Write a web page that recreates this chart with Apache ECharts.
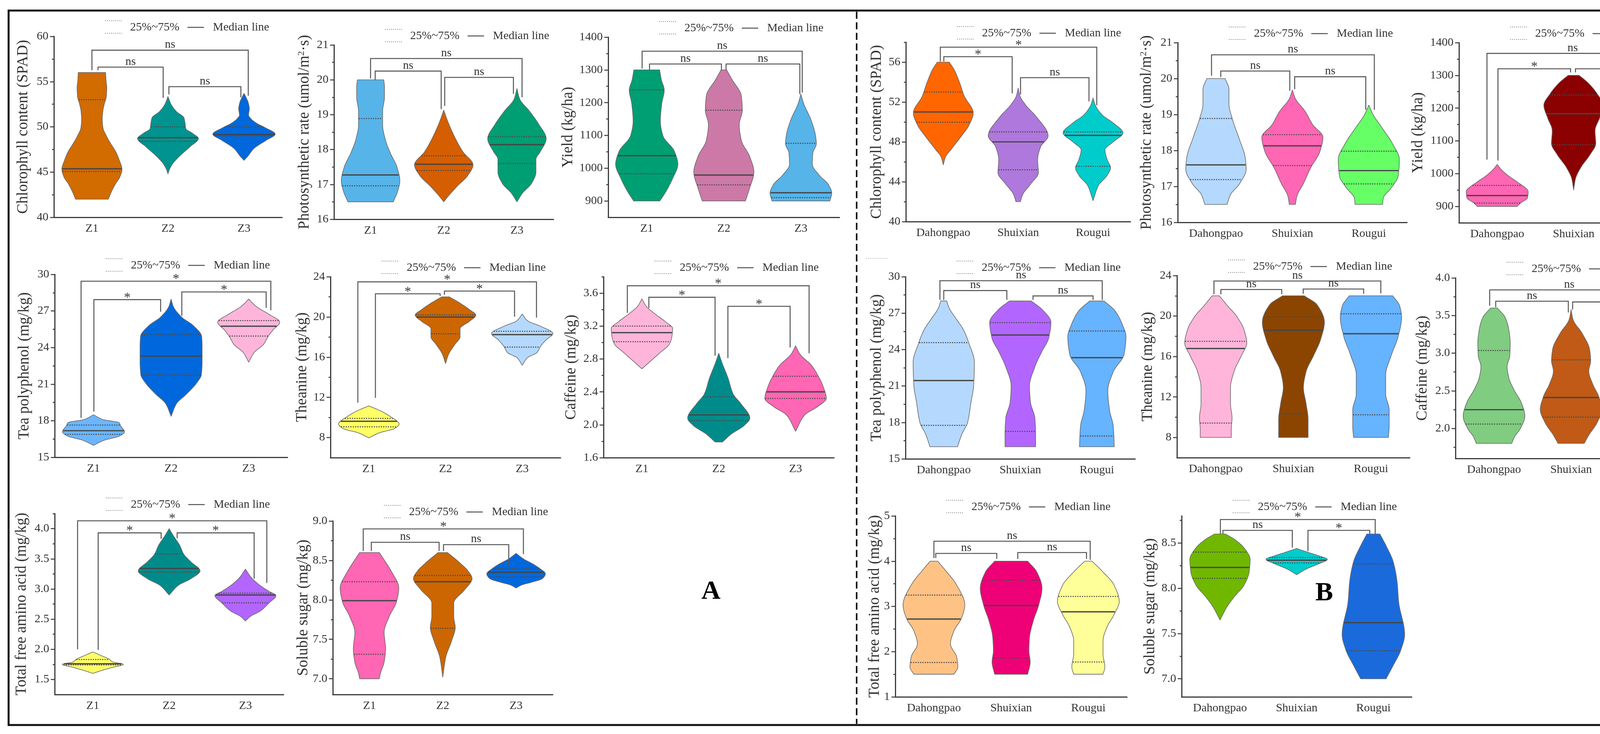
<!DOCTYPE html>
<html><head><meta charset="utf-8">
<script src="https://cdn.jsdelivr.net/npm/echarts@6/dist/echarts.min.js"></script>
<style>html,body{margin:0;padding:0;background:#fff}#c{width:4367px;height:1878px}</style>
</head><body><div id="c"></div>
<script>
// ---------------- DATA ----------------
const catsZ = ['Z1', 'Z2', 'Z3'];
const catsV = ['Dahongpao', 'Shuixian', 'Rougui'];

// Violin profiles: [value, density half-width (share of category band)]
// quartiles: [Q1, median, Q3]; sig: [from, to, bracket top, left end, right end, label]
// ---- A1 Chlorophyll (Z)
const chlZ_range = [40, 60];
const chlZ_ticks = [40, 45, 50, 55, 60];
const chlZ_minor = [42.5, 47.5, 52.5, 57.5];
const chlZ_profile = [
  [[42,0.215],[42.9,0.26],[43.7,0.31],[44.5,0.37],[45.3,0.395],[46.4,0.356],[47.3,0.31],[48.1,0.25],[49.0,0.19],[49.9,0.145],[50.8,0.136],[51.7,0.143],[52.5,0.162],[53.4,0.19],[54.3,0.195],[55.2,0.185],[56,0.18]],
  [[44.8,0],[45.3,0.02],[45.9,0.06],[46.7,0.145],[47.8,0.29],[48.7,0.40],[49.3,0.32],[49.8,0.235],[50.4,0.225],[51.0,0.21],[51.7,0.11],[52.5,0.04],[53.35,0]],
  [[46.3,0],[46.7,0.045],[47.6,0.13],[48.5,0.29],[49.2,0.41],[49.9,0.28],[50.4,0.165],[50.9,0.09],[51.3,0.06],[52.0,0.07],[52.7,0.055],[53.2,0.03],[53.7,0]]
];
const chlZ_quart = [[45.06,45.36,53.0],[48.4,48.8,50.0],[49.0,49.15,50.0]];
const chlZ_sig = [[0,2,58.47,56.26,53.44,'ns'],[0,1,56.6,56.26,53.2,'ns'],[1,2,54.44,53.58,53.26,'ns']];

// ---- A2 Photosynthetic rate (Z)
const phZ_range = [16, 21];
const phZ_ticks = [16, 17, 18, 19, 20, 21];
const phZ_minor = [16.5, 17.5, 18.5, 19.5, 20.5];
const phZ_profile = [
  [[16.5,0.31],[16.8,0.37],[17.1,0.40],[17.5,0.36],[17.9,0.27],[18.3,0.2],[18.7,0.165],[19.1,0.165],[19.5,0.19],[19.8,0.19],[20.0,0.18]],
  [[16.5,0],[16.66,0.06],[16.94,0.18],[17.26,0.33],[17.56,0.40],[17.94,0.26],[18.4,0.14],[18.86,0.045],[19.13,0]],
  [[16.5,0],[16.75,0.076],[17.03,0.2],[17.35,0.26],[17.72,0.26],[17.94,0.32],[18.31,0.40],[18.72,0.30],[19.09,0.176],[19.45,0.038],[19.75,0]]
];
const phZ_quart = [[16.96,17.27,18.89],[17.4,17.58,17.82],[17.6,18.14,18.37]];
const phZ_sig = [[0,2,20.61,20.04,19.5,'ns'],[0,1,20.25,20.0,19.16,'ns'],[1,2,20.07,19.25,19.6,'ns']];

// ---- A3 Yield (Z)
const ydZ_range = [850, 1400];
const ydZ_ticks = [900, 1000, 1100, 1200, 1300, 1400];
const ydZ_minor = [950, 1050, 1150, 1250, 1350];
const ydZ_profile = [
  [[900,0.17],[929,0.25],[968,0.335],[1012,0.404],[1051,0.36],[1099,0.21],[1143,0.177],[1197,0.195],[1238,0.227],[1270,0.19],[1300,0.167]],
  [[900,0.28],[939,0.335],[988,0.39],[1036,0.335],[1085,0.227],[1133,0.2],[1177,0.24],[1221,0.227],[1270,0.108],[1300,0.036]],
  [[900,0.375],[924,0.40],[949,0.36],[978,0.24],[1012,0.148],[1046,0.155],[1075,0.2],[1099,0.19],[1148,0.13],[1197,0.036],[1226,0]]
];
const ydZ_quart = [[983,1038,1239],[949,979,1177],[910,925,1076]];
const ydZ_sig = [[0,2,1357,1304,1231,'ns'],[0,1,1318,1300,1299,'ns'],[1,2,1318,1300,1226,'ns']];

// ---- A4 Tea polyphenol (Z)
const tpZ_range = [15, 30];
const tpZ_ticks = [15, 18, 21, 24, 27, 30];
const tpZ_minor = [16.5, 19.5, 22.5, 25.5, 28.5];
const tpZ_profile = [
  [[15.98,0],[16.4,0.14],[16.73,0.33],[17.09,0.40],[17.58,0.35],[17.84,0.33],[18.1,0.12],[18.49,0]],
  [[18.36,0],[19.4,0.07],[20.19,0.2],[21.1,0.33],[21.76,0.39],[22.8,0.40],[24.11,0.40],[24.9,0.394],[25.81,0.285],[26.47,0.14],[27.38,0.028],[27.97,0]],
  [[22.8,0],[23.59,0.07],[24.25,0.19],[24.9,0.25],[25.42,0.31],[26.08,0.40],[26.73,0.26],[27.38,0.095],[27.97,0]]
];
const tpZ_quart = [[16.88,17.18,17.64],[21.76,23.3,25.06],[24.94,25.75,26.21]];
const tpZ_sig = [[0,2,29.44,18.23,27.06,'*'],[0,1,27.93,18.75,26.93,'*'],[1,2,28.56,26.6,27.25,'*']];

// ---- A5 Theanine (Z)
const thZ_range = [6, 24];
const thZ_ticks = [8, 12, 16, 20, 24];
const thZ_minor = [10, 14, 18, 22];
const thZ_profile = [
  [[7.97,0],[8.48,0.14],[8.88,0.33],[9.35,0.395],[10.07,0.285],[10.7,0.14],[11.15,0]],
  [[15.36,0],[16.28,0.04],[17.24,0.12],[18.03,0.19],[18.83,0.19],[19.55,0.31],[20.18,0.395],[20.74,0.31],[21.37,0.19],[22.0,0.048]],
  [[15.2,0],[15.96,0.07],[16.44,0.19],[17.08,0.24],[17.71,0.31],[18.35,0.40],[19.07,0.24],[19.62,0.07],[20.29,0]]
];
const thZ_quart = [[9.07,9.62,9.91],[18.32,19.99,20.21],[17.0,18.24,18.57]];
const thZ_sig = [[0,2,23.49,11.47,19.94,'*'],[0,1,22.3,11.95,22.09,'*'],[1,2,22.57,22.2,20.02,'*']];

// ---- A6 Caffeine (Z)
const cfZ_range = [1.6, 3.8];
const cfZ_ticks = [1.6, 2.0, 2.4, 2.8, 3.2, 3.6];
const cfZ_minor = [1.8, 2.2, 2.6, 3.0, 3.4, 3.8];
const cfZ_profile = [
  [[2.68,0],[2.78,0.12],[2.88,0.24],[2.98,0.357],[3.07,0.39],[3.17,0.40],[3.25,0.31],[3.35,0.167],[3.44,0.057],[3.53,0]],
  [[1.79,0.048],[1.89,0.167],[1.99,0.33],[2.08,0.405],[2.26,0.285],[2.37,0.19],[2.57,0.12],[2.76,0.04],[2.87,0]],
  [[1.92,0],[2.12,0.12],[2.22,0.285],[2.32,0.40],[2.47,0.357],[2.61,0.285],[2.72,0.21],[2.86,0.057],[2.96,0]]
];
const cfZ_quart = [[3.01,3.12,3.2],[2.05,2.12,2.34],[2.32,2.4,2.59]];
const cfZ_sig = [[0,2,3.69,3.36,2.87,'*'],[0,1,3.55,3.42,2.84,'*'],[1,2,3.44,2.81,2.94,'*']];

// ---- A7 Total free amino acid (Z)
const aaZ_range = [1.25, 4.25];
const aaZ_ticks = [1.5, 2.0, 2.5, 3.0, 3.5, 4.0];
const aaZ_minor = [1.75, 2.25, 2.75, 3.25, 3.75, 4.25];
const aaZ_profile = [
  [[1.6,0],[1.65,0.12],[1.70,0.26],[1.75,0.40],[1.79,0.26],[1.84,0.21],[1.89,0.12],[1.957,0]],
  [[2.9,0],[3.06,0.12],[3.17,0.285],[3.3,0.405],[3.45,0.285],[3.58,0.19],[3.72,0.14],[3.88,0.057],[4.0,0]],
  [[2.47,0],[2.55,0.07],[2.63,0.19],[2.77,0.31],[2.89,0.40],[2.96,0.31],[3.06,0.19],[3.2,0.07],[3.33,0]]
];
const aaZ_quart = [[1.74,1.76,1.83],[3.28,3.34,3.58],[2.77,2.9,2.93]];
const aaZ_sig = [[0,2,4.13,2.0,3.1,'*'],[0,1,3.93,1.99,3.83,'*'],[1,2,3.93,3.84,3.17,'*']];

// ---- A8 Soluble sugar (Z)
const ssZ_range = [6.8, 9.0];
const ssZ_ticks = [7.0, 7.5, 8.0, 8.5, 9.0];
const ssZ_minor = [7.25, 7.75, 8.25, 8.75];
const ssZ_profile = [
  [[7.0,0.134],[7.07,0.15],[7.21,0.2],[7.38,0.22],[7.59,0.2],[7.79,0.27],[7.98,0.37],[8.15,0.40],[8.36,0.3],[8.48,0.22],[8.6,0.134]],
  [[7.02,0],[7.27,0.04],[7.48,0.12],[7.65,0.17],[7.79,0.15],[7.96,0.15],[8.13,0.3],[8.27,0.40],[8.36,0.35],[8.48,0.22],[8.6,0.065]],
  [[8.15,0],[8.19,0.08],[8.22,0.2],[8.27,0.36],[8.33,0.40],[8.4,0.32],[8.46,0.22],[8.52,0.1],[8.59,0]]
];
const ssZ_quart = [[7.31,7.99,8.23],[7.64,8.23,8.31],[8.29,8.35,8.4]];
const ssZ_sig = [[0,2,8.9,8.62,8.58,'*'],[0,1,8.73,8.62,8.62,'ns'],[1,2,8.7,8.62,8.44,'ns']];

// ---- B1 Chlorophyll (varieties)
const chlV_range = [40, 58];
const chlV_ticks = [40, 44, 48, 52, 56];
const chlV_minor = [42, 46, 50, 54, 58];
const chlV_profile = [
  [[45.7,0],[46.5,0.03],[47.2,0.1],[48.5,0.234],[49.7,0.345],[50.9,0.40],[52.6,0.28],[53.9,0.22],[55.2,0.148],[56.0,0.08]],
  [[42.0,0.03],[42.7,0.06],[43.8,0.17],[44.9,0.27],[46.2,0.26],[47.5,0.3],[48.6,0.40],[50.5,0.246],[51.7,0.1],[52.6,0.025],[53.4,0]],
  [[42.1,0],[43.65,0.074],[44.6,0.185],[45.4,0.234],[46.2,0.19],[47.2,0.16],[48.0,0.27],[48.9,0.40],[49.9,0.27],[50.7,0.123],[51.7,0.03],[52.4,0]]
];
const chlV_quart = [[49.97,51.0,53.0],[45.2,48.0,49.0],[45.55,48.65,49.0]];
const chlV_sig = [[0,2,57.5,56.07,51.67,'*'],[0,1,56.55,56.07,52.87,'*'],[1,2,54.44,52.76,52.07,'ns']];

// ---- B2 Photosynthetic rate (varieties)
const phV_range = [16, 21];
const phV_ticks = [16, 17, 18, 19, 20, 21];
const phV_minor = [16.5, 17.5, 18.5, 19.5, 20.5];
const phV_profile = [
  [[16.5,0.145],[16.77,0.19],[17.08,0.31],[17.48,0.395],[17.75,0.386],[18.41,0.29],[18.86,0.217],[19.3,0.17],[19.7,0.17],[20.0,0.12]],
  [[16.5,0.04],[16.72,0.058],[17.08,0.145],[17.52,0.24],[17.97,0.36],[18.37,0.40],[18.72,0.265],[19.08,0.17],[19.44,0.04],[19.68,0]],
  [[16.5,0.18],[16.68,0.19],[16.95,0.29],[17.3,0.385],[17.75,0.40],[18.19,0.31],[18.64,0.17],[18.99,0.058],[19.26,0]]
];
const phV_quart = [[17.19,17.6,18.89],[17.58,18.13,18.44],[17.07,17.44,17.98]];
const phV_sig = [[0,2,20.66,20.08,19.13,'ns'],[0,1,20.21,20.04,19.66,'ns'],[1,2,20.05,19.7,19.13,'ns']];

// ---- B3 Yield (varieties)
const ydV_range = [850, 1400];
const ydV_ticks = [900, 1000, 1100, 1200, 1300, 1400];
const ydV_minor = [950, 1050, 1150, 1250, 1350];
const ydV_profile = [
  [[900,0.26],[911,0.31],[926,0.396],[945,0.405],[975,0.26],[994,0.143],[1014,0.048],[1028,0]],
  [[950,0],[984,0.024],[1019,0.095],[1058,0.215],[1092,0.29],[1131,0.28],[1170,0.34],[1209,0.39],[1243,0.31],[1277,0.19],[1300,0.072]],
  [[900,0.3],[921,0.33],[945,0.39],[980,0.33],[1009,0.34],[1038,0.39],[1062,0.29],[1092,0.143],[1121,0.04],[1145,0]]
];
const ydV_quart = [[910,933,964],[1088,1183,1240],[937,980,1038]];
const ydV_sig = [[0,2,1367,1043,1116,'ns'],[0,1,1320,1040,1309,'*'],[1,2,1320,1309,1160,'*']];

// ---- B4 Tea polyphenol (varieties)
const tpV_range = [15, 30];
const tpV_ticks = [15, 18, 21, 24, 27, 30];
const tpV_minor = [16.5, 19.5, 22.5, 25.5, 28.5];
const tpV_profile = [
  [[16.0,0.18],[17.04,0.237],[17.96,0.31],[19.67,0.356],[20.99,0.39],[22.96,0.40],[24.5,0.33],[25.6,0.26],[26.5,0.166],[27.43,0.07],[28.0,0.038]],
  [[16.0,0.2],[17.04,0.2],[18.36,0.19],[19.67,0.133],[20.99,0.12],[22.57,0.19],[23.88,0.285],[24.93,0.37],[26.25,0.40],[27.3,0.285],[28.0,0.143]],
  [[16.0,0.228],[17.7,0.214],[19.0,0.166],[20.6,0.143],[22.17,0.214],[23.62,0.356],[25.07,0.38],[26.1,0.33],[27.17,0.24],[28.0,0.095]]
];
const tpV_quart = [[17.76,21.45,24.57],[17.26,25.2,26.22],[16.88,23.33,25.53]];
const tpV_sig = [[0,2,29.67,28.09,28.09,'ns'],[0,1,28.86,28.09,28.09,'ns'],[1,2,28.42,28.09,28.09,'ns']];

// ---- B5 Theanine (varieties)
const thV_range = [6, 24];
const thV_ticks = [8, 12, 16, 20, 24];
const thV_minor = [10, 14, 18, 22];
const thV_profile = [
  [[8.0,0.2],[8.82,0.2],[9.92,0.21],[11.34,0.19],[12.92,0.19],[14.5,0.235],[16.08,0.33],[17.34,0.40],[18.6,0.366],[19.86,0.28],[21.12,0.14],[22.0,0.047]],
  [[8.0,0.19],[9.77,0.19],[11.34,0.164],[12.92,0.13],[14.5,0.164],[16.08,0.26],[17.65,0.35],[19.39,0.40],[21.12,0.305],[22.0,0.14]],
  [[8.0,0.225],[9.14,0.235],[10.71,0.235],[12.29,0.19],[14.18,0.19],[16.08,0.26],[17.97,0.35],[19.86,0.395],[21.0,0.37],[22.0,0.28]]
];
const thV_quart = [[9.42,16.79,17.5],[10.32,18.6,19.9],[10.24,18.25,20.22]];
const thV_sig = [[0,2,23.46,22.15,22.23,'ns'],[0,1,22.62,22.15,22.15,'ns'],[1,2,22.67,22.2,22.2,'ns']];

// ---- B6 Caffeine (varieties)
const cfV_range = [1.6, 4.0];
const cfV_ticks = [2.0, 2.5, 3.0, 3.5, 4.0];
const cfV_minor = [1.75, 2.25, 2.75, 3.25, 3.75];
const cfV_profile = [
  [[1.8,0.23],[1.888,0.266],[1.994,0.34],[2.163,0.40],[2.35,0.35],[2.5,0.266],[2.67,0.193],[2.82,0.17],[2.967,0.205],[3.136,0.21],[3.306,0.193],[3.475,0.145],[3.6,0.043]],
  [[1.8,0.17],[1.91,0.23],[2.08,0.34],[2.25,0.40],[2.42,0.36],[2.59,0.28],[2.76,0.23],[2.9,0.254],[3.05,0.24],[3.26,0.145],[3.45,0.024],[3.58,0]],
  [[1.8,0],[1.99,0.043],[2.12,0.12],[2.25,0.22],[2.4,0.34],[2.54,0.40],[2.67,0.34],[2.84,0.254],[3.01,0.193],[3.18,0.213],[3.35,0.193],[3.475,0.133],[3.6,0.053]]
];
const cfV_quart = [[2.057,2.248,3.035],[2.15,2.41,2.91],[2.555,2.637,3.164]];
const cfV_sig = [[0,2,3.84,3.63,3.62,'ns'],[0,1,3.69,3.61,3.54,'ns'],[1,2,3.68,3.58,3.61,'ns']];

// ---- B7 Total free amino acid (varieties)
const aaV_range = [1, 5];
const aaV_ticks = [1, 2, 3, 4, 5];
const aaV_minor = [1.5, 2.5, 3.5, 4.5];
const aaV_profile = [
  [[1.5,0.26],[1.66,0.31],[1.88,0.295],[2.17,0.214],[2.46,0.26],[2.74,0.357],[3.03,0.40],[3.5,0.285],[3.76,0.167],[4.0,0.048]],
  [[1.5,0.214],[1.77,0.247],[2.02,0.23],[2.31,0.238],[2.67,0.285],[3.03,0.357],[3.4,0.40],[3.76,0.333],[4.0,0.214]],
  [[1.5,0.19],[1.66,0.214],[1.95,0.19],[2.24,0.19],[2.53,0.238],[2.82,0.333],[3.11,0.40],[3.47,0.333],[3.76,0.19],[4.0,0.048]]
];
const aaV_quart = [[1.76,2.72,3.25],[1.86,3.02,3.58],[1.77,2.88,3.22]];
const aaV_sig = [[0,2,4.44,4.07,4.03,'ns'],[0,1,4.17,4.07,4.05,'ns'],[1,2,4.19,4.05,4.05,'ns']];

// ---- B8 Soluble sugar (varieties)
const ssV_range = [6.8, 8.8];
const ssV_ticks = [7.0, 7.5, 8.0, 8.5];
const ssV_minor = [7.25, 7.75, 8.25, 8.75];
const ssV_profile = [
  [[7.65,0],[7.8,0.095],[7.91,0.19],[8.03,0.31],[8.18,0.38],[8.32,0.393],[8.45,0.31],[8.54,0.19],[8.6,0.071]],
  [[8.15,0],[8.21,0.118],[8.27,0.285],[8.32,0.40],[8.36,0.285],[8.4,0.14],[8.44,0]],
  [[7.0,0.166],[7.15,0.26],[7.31,0.355],[7.49,0.408],[7.85,0.33],[8.07,0.31],[8.29,0.26],[8.47,0.166],[8.6,0.085]]
];
const ssV_quart = [[8.11,8.23,8.4],[8.28,8.31,8.34],[7.31,7.62,8.27]];
const ssV_sig = [[0,2,8.76,8.6,8.6,'*'],[0,1,8.64,8.6,8.45,'ns'],[1,2,8.64,8.41,8.6,'*']];

// ---------------- LAYOUT / STYLE ----------------
const FONT = "'Liberation Serif','Times New Roman',serif";
const PANELS = [
  {cats:catsZ, prof:chlZ_profile, quart:chlZ_quart, sig:chlZ_sig, range:chlZ_range, ticks:chlZ_ticks, minor:chlZ_minor, dec:0,
   title:'Chlorophyll content (SPAD)', grid:[138,93,722,556], tOff:81, colors:['#D26B00','#00938F','#0068DC'],
   sigX:[[0,0.056],[0.08,-0.063],[0.012,-0.041]]},
  {cats:catsZ, prof:phZ_profile, quart:phZ_quart, sig:phZ_sig, range:phZ_range, ticks:phZ_ticks, minor:phZ_minor, dec:0,
   title:'Photosynthetic rate (umol/m{sup|2}·s)', grid:[855,115,1417,561], tOff:78, colors:['#56B4E9','#D55E00','#009E73'],
   sigX:[[0,0.07],[0.063,-0.035],[0.013,-0.048]]},
  {cats:catsZ, prof:ydZ_profile, quart:ydZ_quart, sig:ydZ_sig, range:ydZ_range, ticks:ydZ_ticks, minor:ydZ_minor, dec:0,
   title:'Yield (kg/ha)', grid:[1557,95,2149,556], tOff:105, colors:['#009E73','#CC79A7','#56B4E9'],
   sigX:[[-0.06,0.017],[0.036,-0.031],[0.029,-0.014]]},
  {cats:catsZ, prof:tpZ_profile, quart:tpZ_quart, sig:tpZ_sig, range:tpZ_range, ticks:tpZ_ticks, minor:tpZ_minor, dec:0,
   title:'Tea polyphenol (mg/kg)', grid:[140,702,736,1170], tOff:80, colors:['#6CB6FF','#0068DC','#FFB5DA'],
   sigX:[[-0.16,0.285],[0.005,-0.135],[0.138,0.225]]},
  {cats:catsZ, prof:thZ_profile, quart:thZ_quart, sig:thZ_sig, range:thZ_range, ticks:thZ_ticks, minor:thZ_minor, dec:0,
   title:'Theanine (mg/kg)', grid:[846,708,1435,1171], tOff:75, colors:['#FFFF66','#CC6600','#B5D8FF'],
   sigX:[[-0.143,0.186],[0.086,-0.07],[-0.014,-0.1]]},
  {cats:catsZ, prof:cfZ_profile, quart:cfZ_quart, sig:cfZ_sig, range:cfZ_range, ticks:cfZ_ticks, minor:cfZ_minor, dec:1,
   title:'Caffeine (mg/kg)', grid:[1545,708,2135,1171], tOff:85, colors:['#FFB5DA','#008B8B','#FF66B3'],
   sigX:[[-0.19,0.176],[0.09,-0.048],[0.119,-0.071]]},
  {cats:catsZ, prof:aaZ_profile, quart:aaZ_quart, sig:aaZ_sig, range:aaZ_range, ticks:aaZ_ticks, minor:aaZ_minor, dec:1,
   title:'Total free amino acid (mg/kg)', grid:[140,1314,726,1777], tOff:87, colors:['#FFFF66','#008B8B','#B266FF'],
   sigX:[[-0.2,0.28],[0.07,-0.105],[0.105,0.114]]},
  {cats:catsZ, prof:ssZ_profile, quart:ssZ_quart, sig:ssZ_sig, range:ssZ_range, ticks:ssZ_ticks, minor:ssZ_minor, dec:1,
   title:'Soluble sugar (mg/kg)', grid:[852,1333,1415,1777], tOff:72, colors:['#FF66B3','#CC6600','#0068DC'],
   sigX:[[-0.085,0.1],[0.025,-0.05],[0.01,-0.1]]},
  {cats:catsV, prof:chlV_profile, quart:chlV_quart, sig:chlV_sig, range:chlV_range, ticks:chlV_ticks, minor:chlV_minor, dec:0,
   title:'Chlorophyll content (SPAD)', grid:[2319,108,2894,567], tOff:77, colors:['#FF6600','#AE78DC','#00CCCC'],
   sigX:[[-0.04,0.05],[0.007,-0.08],[0.032,-0.054]]},
  {cats:catsV, prof:phV_profile, quart:phV_quart, sig:phV_sig, range:phV_range, ticks:phV_ticks, minor:phV_minor, dec:0,
   title:'Photosynthetic rate (umol/m{sup|2}·s)', grid:[3015,109,3602,569], tOff:82, colors:['#B5D8FF','#FF66B3','#66FF66'],
   sigX:[[-0.058,0.072],[0.063,-0.034],[0.03,-0.04]]},
  {cats:catsV, prof:ydV_profile, quart:ydV_quart, sig:ydV_sig, range:ydV_range, ticks:ydV_ticks, minor:ydV_minor, dec:0,
   title:'Yield (kg/ha)', grid:[3735,109,4322,570], tOff:107, colors:['#FF66B3','#8B0000','#B266FF'],
   sigX:[[-0.134,0.11],[0.01,-0.04],[0.024,0.014]]},
  {cats:catsV, prof:tpV_profile, quart:tpV_quart, sig:tpV_sig, range:tpV_range, ticks:tpV_ticks, minor:tpV_minor, dec:0,
   title:'Tea polyphenol (mg/kg)', grid:[2318,708,2906,1174], tOff:76, colors:['#B5D8FF','#B266FF','#66B3FF'],
   sigX:[[-0.05,0.07],[0,-0.176],[0.166,-0.05]]},
  {cats:catsV, prof:thV_profile, quart:thV_quart, sig:thV_sig, range:thV_range, ticks:thV_ticks, minor:thV_minor, dec:0,
   title:'Theanine (mg/kg)', grid:[3013,705,3609,1171], tOff:77, colors:['#FFB5DA','#8B4500','#66B3FF'],
   sigX:[[-0.023,0.127],[0.066,-0.15],[0.127,-0.094]]},
  {cats:catsV, prof:cfV_profile, quart:cfV_quart, sig:cfV_sig, range:cfV_range, ticks:cfV_ticks, minor:cfV_minor, dec:1,
   title:'Caffeine (mg/kg)', grid:[3726,711,4318,1173], tOff:87, colors:['#80CC80','#C05A16','#3366AD'],
   sigX:[[-0.056,0.01],[0.022,-0.036],[0.02,-0.05]]},
  {cats:catsV, prof:aaV_profile, quart:aaV_quart, sig:aaV_sig, range:aaV_range, ticks:aaV_ticks, minor:aaV_minor, dec:0,
   title:'Total free amino acid (mg/kg)', grid:[2292,1320,2885,1783], tOff:54, colors:['#FFC285','#EE0077','#FFFF99'],
   sigX:[[0,0.024],[0.024,-0.186],[0.086,-0.024]]},
  {cats:catsV, prof:ssV_profile, quart:ssV_quart, sig:ssV_sig, range:ssV_range, ticks:ssV_ticks, minor:ssV_minor, dec:1,
   title:'Soluble sugar (mg/kg)', grid:[3025,1320,3614,1783], tOff:83, colors:['#70B800','#00CCCC','#1A6ADB'],
   sigX:[[0.005,0.024],[0.038,-0.057],[0.147,-0.047]]}
];

// ---------------- HELPERS ----------------
function makeSpline(pts) {
  const xs = pts.map(p => p[0]), ys = pts.map(p => p[1]);
  const n = xs.length, h = [], d = [], m = new Array(n);
  for (let k = 0; k < n - 1; k++) { h[k] = xs[k+1] - xs[k]; d[k] = (ys[k+1] - ys[k]) / h[k]; }
  m[0] = d[0]; m[n-1] = d[n-2];
  for (let k = 1; k < n - 1; k++) {
    if (d[k-1] * d[k] <= 0) m[k] = 0;
    else { const w1 = 2*h[k] + h[k-1], w2 = h[k] + 2*h[k-1]; m[k] = (w1 + w2) / (w1 / d[k-1] + w2 / d[k]); }
  }
  const f = function (x) {
    if (x <= xs[0]) return ys[0];
    if (x >= xs[n-1]) return ys[n-1];
    let k = 0; while (k < n - 2 && x > xs[k+1]) k++;
    const t = (x - xs[k]) / h[k], t2 = t*t, t3 = t2*t;
    return Math.max(0, (2*t3 - 3*t2 + 1)*ys[k] + (t3 - 2*t2 + t)*h[k]*m[k] + (-2*t3 + 3*t2)*ys[k+1] + (t3 - t2)*h[k]*m[k+1]);
  };
  f.xs = xs; f.h = h;
  return f;
}
function sampleX(f) {
  const out = [];
  for (let k = 0; k < f.h.length; k++) for (let j = 0; j < 12; j++) out.push(f.xs[k] + f.h[k]*j/12);
  out.push(f.xs[f.xs.length-1]);
  return out;
}
function px(api, fi, v, band) {
  const i = Math.round(fi);
  return api.coord([i, v])[0] + (fi - i) * band;
}

function violinRender(P) {
  const splines = P.prof.map(makeSpline);
  return function (params, api) {
    const i = params.dataIndex;
    const f = splines[i];
    const band = api.size([1, 0])[0];
    const cx = api.coord([i, P.range[0]])[0];
    const vs = sampleX(f);
    const right = vs.map(v => [cx + f(v)*band, api.coord([i, v])[1]]);
    const left = vs.slice().reverse().map(v => [cx - f(v)*band, api.coord([i, v])[1]]);
    const children = [{type:'polygon', shape:{points: right.concat(left)},
      style:{fill: P.colors[i], stroke:'#6a6a6a', lineWidth:1.6, lineJoin:'round'}}];
    P.quart[i].forEach((q, qi) => {
      const w = f(q) * band, y = api.coord([i, q])[1];
      children.push({type:'line', shape:{x1: cx - w + 1, y1: y, x2: cx + w - 1, y2: y},
        style: qi === 1 ? {stroke:'#454545', lineWidth:3.2} : {stroke:'#4a4a4a', lineWidth:2.6, lineDash:[3,3]}});
    });
    return {type:'group', children};
  };
}
function sigRender(P) {
  return function (params, api) {
    const k = params.dataIndex, s = P.sig[k], off = P.sigX[k];
    const band = api.size([1, 0])[0];
    const xL = px(api, s[0] + off[0], s[2], band), xR = px(api, s[1] + off[1], s[2], band);
    const yT = api.coord([0, s[2]])[1], yL = api.coord([0, s[3]])[1], yR = api.coord([0, s[4]])[1];
    const star = s[5] === '*';
    return {type:'group', children:[
      {type:'polyline', shape:{points:[[xL,yL],[xL,yT],[xR,yT],[xR,yR]]}, style:{stroke:'#5a5a5a', lineWidth:2.6, fill:null}},
      {type:'text', x:(xL + xR)/2, y: yT - (star ? 5 : 14),
       style:{text:s[5], font:(star ? '34px ' : '30px ') + FONT, fill:'#333', align:'center', verticalAlign:'middle'}}
    ]};
  };
}

// ---------------- OPTION ----------------
const grids = [], xAxes = [], yAxes = [], series = [], graphics = [];
const axisColor = '#3c3c3c';
PANELS.forEach((P, k) => {
  const [L, T, R, B] = P.grid;
  grids.push({left:L, top:T, width:R-L, height:B-T, containLabel:false, outerBoundsMode:'none'});
  xAxes.push({gridIndex:k, type:'category', data:P.cats, boundaryGap:true,
    axisLine:{lineStyle:{color:axisColor, width:3}},
    axisTick:{alignWithLabel:true, length:9, lineStyle:{color:axisColor, width:2.5}},
    axisLabel:{fontFamily:FONT, fontSize:30, color:'#333', margin:14},
    splitLine:{show:false}});
  yAxes.push({gridIndex:k, type:'value', position:'left', offset:0, min:P.range[0], max:P.range[1],
    axisLine:{show:true, lineStyle:{color:axisColor, width:3}},
    axisTick:{show:true, length:10, customValues:P.ticks, lineStyle:{color:axisColor, width:2.5}},
    axisLabel:{customValues:P.ticks, formatter:(v) => Number(v).toFixed(P.dec), fontFamily:FONT, fontSize:30, color:'#333', margin:14},
    splitLine:{show:false},
    name:P.title, nameLocation:'middle', nameGap:P.tOff - 22,
    nameTextStyle:{fontFamily:FONT, fontSize:39, color:'#333',
      rich:{sup:{fontFamily:FONT, fontSize:24, color:'#333', verticalAlign:'top', padding:[0,0,14,0]}}}});
  yAxes.push({gridIndex:k, type:'value', position:'left', offset:0, min:P.range[0], max:P.range[1],
    axisLine:{show:false, onZero:false}, axisLabel:{show:false}, splitLine:{show:false},
    axisTick:{show:true, length:5, customValues:P.minor, lineStyle:{color:axisColor, width:2.5}}});
  series.push({type:'custom', xAxisIndex:k, yAxisIndex:2*k, clip:false, silent:true, z:2,
    data:P.quart.map((q, i) => [i, q[1]]), renderItem:violinRender(P)});
  series.push({type:'custom', xAxisIndex:k, yAxisIndex:2*k, clip:false, silent:true, z:3,
    data:P.sig.map((s, i) => [s[0], s[2]]), renderItem:sigRender(P)});
  // legend
  const ly = T - 23;
  graphics.push(
    {type:'line', shape:{x1:L+131, y1:T-40, x2:L+175, y2:T-40}, style:{stroke:'#808080', lineWidth:2, lineDash:[2,3]}},
    {type:'line', shape:{x1:L+131, y1:T-8, x2:L+175, y2:T-8}, style:{stroke:'#808080', lineWidth:2, lineDash:[2,3]}},
    {type:'text', x:L+195, y:ly, style:{text:'25%~75%', font:'30px ' + FONT, fill:'#333', verticalAlign:'middle'}},
    {type:'line', shape:{x1:L+342, y1:ly, x2:L+384, y2:ly}, style:{stroke:'#505050', lineWidth:2.6}},
    {type:'text', x:L+407, y:ly, style:{text:'Median line', font:'30px ' + FONT, fill:'#333', verticalAlign:'middle'}}
  );
});
graphics.push(
  {type:'rect', shape:{x:22, y:27, width:4316, height:1828}, style:{fill:null, stroke:'#111', lineWidth:5}, z:10},
  {type:'line', shape:{x1:2193, y1:30, x2:2193, y2:1852}, style:{stroke:'#111', lineWidth:4, lineDash:[18,9]}, z:10},
  {type:'line', shape:{x1:2217, y1:661, x2:2273, y2:661}, style:{stroke:'#b0b0b0', lineWidth:2, lineDash:[2,3]}},
  {type:'text', x:1820, y:1514, style:{text:'A', font:'bold 68px ' + FONT, fill:'#000', align:'center', verticalAlign:'middle'}},
  {type:'text', x:3390, y:1518, style:{text:'B', font:'bold 68px ' + FONT, fill:'#000', align:'center', verticalAlign:'middle'}}
);

const chart = echarts.init(document.getElementById('c'), null, {renderer:'canvas'});
chart.setOption({
  animation:false, backgroundColor:'#fff',
  grid:grids, xAxis:xAxes, yAxis:yAxes, series:series, graphic:graphics
});
</script></body></html>
